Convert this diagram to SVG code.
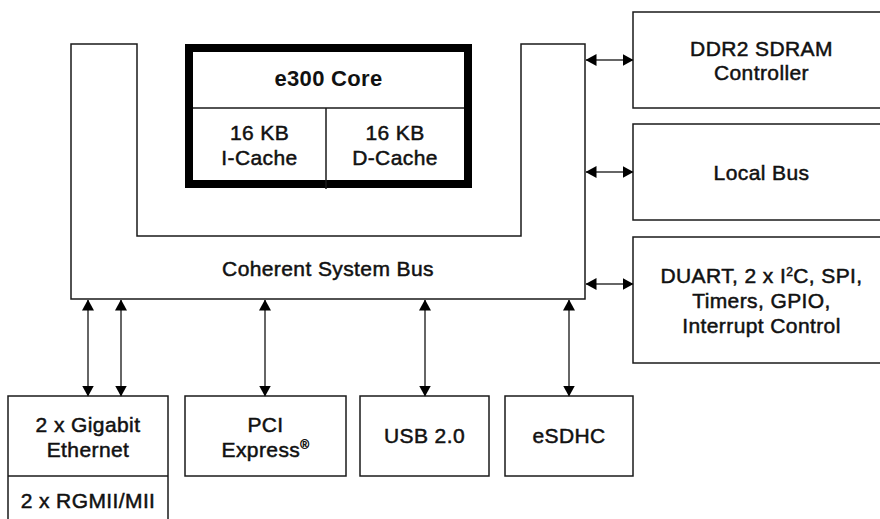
<svg xmlns="http://www.w3.org/2000/svg" width="880" height="519" viewBox="0 0 880 519">
<style>
.box{fill:#fff;stroke:#1a1a1a;stroke-width:1.5}
.core{fill:#fff;stroke:#000;stroke-width:8}
.div{fill:none;stroke:#1a1a1a;stroke-width:1.5}
.t{font-family:"Liberation Sans",Arial,sans-serif;font-size:21px;fill:#111;text-anchor:middle;stroke:#111;stroke-width:0.5;letter-spacing:0.4px}
.tb{font-weight:bold;stroke:none;font-size:22px;letter-spacing:0.3px}
.c line{stroke:#333;stroke-width:1.5;marker-start:url(#ah);marker-end:url(#ah)}
</style>
<defs>
<marker id="ah" markerUnits="userSpaceOnUse" markerWidth="11" markerHeight="12" refX="10.5" refY="6" orient="auto-start-reverse" viewBox="0 0 11 12">
<path d="M0,0 L11,6 L0,12 Z" fill="#000"/>
</marker>
</defs>
<rect width="880" height="519" fill="#fff"/>
<g id="bus">
<path class="box" d="M71,44 H137 V236 H521 V44 H585 V299 H71 Z"/>
<text class="t" x="328" y="276">Coherent System Bus</text>
</g>
<g id="core">
<rect class="core" x="189" y="48" width="279" height="136"/>
<line class="div" x1="193" y1="108" x2="464" y2="108"/>
<line class="div" x1="326" y1="108" x2="326" y2="189"/>
<text class="t tb" x="328.5" y="86">e300 Core</text>
<text class="t" x="259.5" y="140">16 KB</text>
<text class="t" x="259.5" y="165">I-Cache</text>
<text class="t" x="395" y="140">16 KB</text>
<text class="t" x="395" y="165">D-Cache</text>
</g>
<g id="ddr2">
<rect class="box" x="633" y="12" width="257" height="96"/>
<text class="t" x="761.5" y="56">DDR2 SDRAM</text>
<text class="t" x="761.5" y="80">Controller</text>
</g>
<g id="localbus">
<rect class="box" x="633" y="124" width="257" height="96"/>
<text class="t" x="761.5" y="180">Local Bus</text>
</g>
<g id="duart">
<rect class="box" x="633" y="237" width="257" height="126"/>
<text class="t" x="761.5" y="283">DUART, 2 x I<tspan font-size="12" dy="-7">2</tspan><tspan dy="7">C, SPI,</tspan></text>
<text class="t" x="761.5" y="308">Timers, GPIO,</text>
<text class="t" x="761.5" y="333">Interrupt Control</text>
</g>
<g id="ethernet">
<rect class="box" x="8" y="396" width="160" height="140"/>
<line class="div" x1="8" y1="476" x2="168" y2="476"/>
<text class="t" x="88" y="432">2 x Gigabit</text>
<text class="t" x="88" y="457">Ethernet</text>
<text class="t" x="88" y="508">2 x RGMII/MII</text>
</g>
<g id="pcie">
<rect class="box" x="185" y="396" width="161" height="80"/>
<text class="t" x="265.5" y="432">PCI</text>
<text class="t" x="265.5" y="457">Express<tspan font-size="12" dy="-8">®</tspan></text>
</g>
<g id="usb">
<rect class="box" x="360" y="396" width="129" height="80"/>
<text class="t" x="424.5" y="443">USB 2.0</text>
</g>
<g id="esdhc">
<rect class="box" x="505" y="396" width="128" height="80"/>
<text class="t" x="569" y="443">eSDHC</text>
</g>
<g id="connectors" class="c">
<line x1="586" y1="60" x2="633" y2="60"/>
<line x1="586" y1="172" x2="633" y2="172"/>
<line x1="586" y1="284" x2="633" y2="284"/>
<line x1="88" y1="300" x2="88" y2="396"/>
<line x1="121" y1="300" x2="121" y2="396"/>
<line x1="265" y1="300" x2="265" y2="396"/>
<line x1="425" y1="300" x2="425" y2="396"/>
<line x1="569" y1="300" x2="569" y2="396"/>
</g>
</svg>
